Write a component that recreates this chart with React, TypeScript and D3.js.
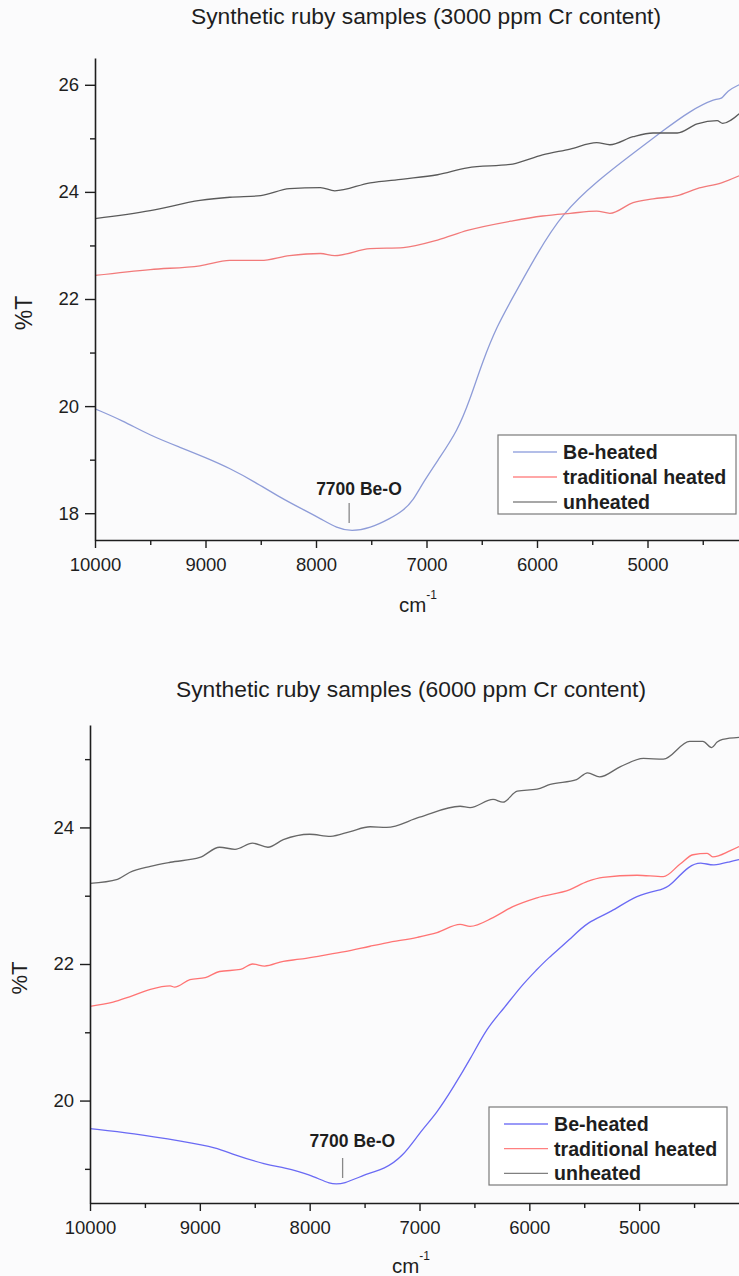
import React, { useRef, useEffect } from 'react';
import * as d3 from 'd3';

type Pt = [number, number]; // [wavenumber cm-1, %T]

const seriesNames = ['Be-heated', 'traditional heated', 'unheated'];

// 3000 ppm Cr
const topBeHeated: Pt[] = [
  [10000, 19.95], [9750, 19.73], [9500, 19.45], [9230, 19.23], [9000, 19.04], [8780, 18.84],
  [8550, 18.58], [8330, 18.3], [8100, 18.05], [7960, 17.9], [7810, 17.72], [7680, 17.66],
  [7510, 17.72], [7330, 17.9], [7210, 18.05], [7120, 18.24], [7030, 18.58], [6880, 19.04],
  [6720, 19.54], [6610, 20.1], [6490, 20.85], [6360, 21.5], [6240, 21.95], [6000, 22.85],
  [5770, 23.6], [5460, 24.2], [5100, 24.77], [4860, 25.14], [4620, 25.51], [4370, 25.76],
  [4330, 25.72], [4280, 25.89], [4170, 26.0],
];
const topTraditional: Pt[] = [
  [10000, 22.44], [9500, 22.55], [9050, 22.62], [8780, 22.72], [8500, 22.72], [8240, 22.81],
  [7960, 22.85], [7830, 22.81], [7510, 22.94], [7210, 22.96], [6900, 23.1], [6630, 23.28],
  [6220, 23.46], [5950, 23.55], [5700, 23.6], [5460, 23.64], [5340, 23.6], [5130, 23.8],
  [4950, 23.87], [4730, 23.93], [4550, 24.06], [4330, 24.17], [4170, 24.3],
];
const topUnheated: Pt[] = [
  [10000, 23.5], [9500, 23.65], [9050, 23.84], [8780, 23.9], [8500, 23.93], [8240, 24.06],
  [7960, 24.08], [7830, 24.02], [7510, 24.17], [7210, 24.24], [6900, 24.32], [6630, 24.45],
  [6220, 24.52], [5950, 24.69], [5700, 24.8], [5460, 24.92], [5340, 24.88], [5130, 25.03],
  [4950, 25.1], [4730, 25.1], [4550, 25.27], [4370, 25.33], [4320, 25.28], [4170, 25.46],
];

// 6000 ppm Cr
const bottomBeHeated: Pt[] = [
  [10000, 19.59], [9610, 19.52], [9150, 19.4], [8840, 19.31], [8700, 19.21], [8390, 19.06],
  [8240, 19.02], [8000, 18.92], [7810, 18.77], [7700, 18.77], [7450, 18.95], [7330, 18.99],
  [7150, 19.18], [7000, 19.53], [6840, 19.82], [6690, 20.2], [6540, 20.6], [6380, 21.08],
  [6240, 21.33], [6080, 21.67], [5930, 21.92], [5840, 22.07], [5630, 22.36], [5470, 22.62],
  [5260, 22.75], [5020, 23.02], [4780, 23.09], [4720, 23.14], [4540, 23.46], [4420, 23.49],
  [4330, 23.43], [4170, 23.5], [4090, 23.53],
];
const bottomTraditional: Pt[] = [
  [10000, 21.38], [9790, 21.44], [9640, 21.52], [9450, 21.63], [9270, 21.68], [9230, 21.66],
  [9090, 21.77], [8950, 21.8], [8820, 21.89], [8630, 21.92], [8520, 22.0], [8410, 21.97],
  [8240, 22.04], [8090, 22.07], [7900, 22.12], [7680, 22.18], [7450, 22.26], [7300, 22.31],
  [7020, 22.39], [6840, 22.46], [6630, 22.58], [6540, 22.55], [6330, 22.68], [6150, 22.84],
  [5930, 22.97], [5630, 23.09], [5470, 23.21], [5330, 23.27], [5020, 23.3], [4780, 23.28],
  [4630, 23.46], [4510, 23.6], [4380, 23.62], [4330, 23.57], [4170, 23.66], [4090, 23.72],
];
const bottomUnheated: Pt[] = [
  [10000, 23.18], [9750, 23.24], [9640, 23.34], [9450, 23.43], [9270, 23.49], [9000, 23.56],
  [8820, 23.71], [8680, 23.68], [8520, 23.77], [8380, 23.71], [8240, 23.82], [8000, 23.9],
  [7810, 23.87], [7630, 23.94], [7450, 24.01], [7300, 24.0], [7000, 24.15], [6630, 24.31],
  [6540, 24.29], [6330, 24.41], [6240, 24.37], [6110, 24.53], [5930, 24.56], [5810, 24.63],
  [5570, 24.7], [5470, 24.8], [5360, 24.74], [5170, 24.89], [4960, 25.01], [4780, 25.0],
  [4540, 25.26], [4420, 25.26], [4340, 25.17], [4290, 25.25], [4240, 25.29], [4090, 25.32],
];

const xMajor = [10000, 9000, 8000, 7000, 6000, 5000];
const xMinor = [9500, 8500, 7500, 6500, 5500, 4500];
const yMajorTop = [18, 20, 22, 24, 26];
const yMajorBottom = [20, 22, 24];
const yMinor = [19, 21, 23, 25];
const peakLabel = '7700 Be-O';
const peakAt = 7700;

const FONT = '"Liberation Sans", Arial, Helvetica, sans-serif';
const INK = '#1e1e1e';

const panels = [
  {
    title: 'Synthetic ruby samples (3000 ppm Cr content)',
    titleX: 426, titleY: 24,
    left: 95, right: 758, top: 58, bottom: 540,
    yDomain: [17.5, 26.5], yMajor: yMajorTop,
    series: [topBeHeated, topTraditional, topUnheated],
    colors: ['#8e9cd8', '#f27a7a', '#5a5a5a'],
    legendColors: ['#9aa8e0', '#ff8a8a', '#8a8a8a'],
    legend: { x: 498, y: 435, w: 238, h: 79 },
    yLabel: { x: 32, y: 313, size: 23 },
    xLabel: { x: 399, y: 612 },
    peak: { textY: 495, lineTop: 503, lineBottom: 523 },
  },
  {
    title: 'Synthetic ruby samples (6000 ppm Cr content)',
    titleX: 411, titleY: 697,
    left: 90, right: 749, top: 725, bottom: 1203,
    yDomain: [18.5, 25.5], yMajor: yMajorBottom,
    series: [bottomBeHeated, bottomTraditional, bottomUnheated],
    colors: ['#6a6af4', '#ff7474', '#676767'],
    legendColors: ['#7878f6', '#ff8080', '#808080'],
    legend: { x: 489, y: 1107, w: 238, h: 78 },
    yLabel: { x: 27, y: 978, size: 22 },
    xLabel: { x: 392, y: 1273 },
    peak: { textY: 1147, lineTop: 1158, lineBottom: 1178 },
  },
];

function drawPanel(svg, p) {
  const x = d3.scaleLinear().domain([10000, 4000]).range([p.left, p.right]);
  const y = d3.scaleLinear().domain(p.yDomain).range([p.bottom, p.top]);
  const g = svg.append('g');

  g.append('text')
    .attr('x', p.titleX)
    .attr('y', p.titleY)
    .attr('text-anchor', 'middle')
    .attr('font-size', 22.8)
    .attr('fill', INK)
    .text(p.title);

  // curves: the Be-heated trace is smooth, the others keep their wiggles
  const smooth = d3.line<Pt>().x((d) => x(d[0])).y((d) => y(d[1])).curve(d3.curveBasis);
  const wiggly = d3.line<Pt>().x((d) => x(d[0])).y((d) => y(d[1])).curve(d3.curveMonotoneX);
  p.series.forEach((s, i) => {
    g.append('path')
      .datum(s)
      .attr('d', i === 0 ? smooth : wiggly)
      .attr('fill', 'none')
      .attr('stroke', p.colors[i])
      .attr('stroke-width', 1.3);
  });

  // axes
  const styleAxis = (ax) => {
    ax.selectAll('path.domain').attr('stroke', INK).attr('stroke-width', 1.6);
    ax.selectAll('.tick line').attr('stroke', INK).attr('stroke-width', 1.4);
    ax.selectAll('.tick text')
      .attr('fill', INK)
      .attr('font-size', 18.5)
      .attr('font-family', FONT);
  };

  const yAx = g
    .append('g')
    .attr('transform', `translate(${p.left},0)`)
    .call(d3.axisLeft(y).tickValues(p.yMajor).tickSize(10).tickSizeOuter(0).tickPadding(6).tickFormat(d3.format('d')));
  styleAxis(yAx);
  const yMin = g
    .append('g')
    .attr('transform', `translate(${p.left},0)`)
    .call(d3.axisLeft(y).tickValues(yMinor).tickSize(5).tickFormat(() => ''));
  yMin.select('path.domain').remove();
  styleAxis(yMin);

  const xAx = g
    .append('g')
    .attr('transform', `translate(0,${p.bottom})`)
    .call(d3.axisBottom(x).tickValues(xMajor).tickSize(8).tickSizeOuter(0).tickPadding(10).tickFormat(d3.format('d')));
  styleAxis(xAx);
  const xMin = g
    .append('g')
    .attr('transform', `translate(0,${p.bottom})`)
    .call(d3.axisBottom(x).tickValues(xMinor).tickSize(5).tickFormat(() => ''));
  xMin.select('path.domain').remove();
  styleAxis(xMin);

  // axis titles
  g.append('text')
    .attr('transform', `translate(${p.yLabel.x},${p.yLabel.y}) rotate(-90)`)
    .attr('text-anchor', 'middle')
    .attr('font-size', p.yLabel.size)
    .attr('fill', INK)
    .text('%T');
  const xl = g
    .append('text')
    .attr('x', p.xLabel.x)
    .attr('y', p.xLabel.y)
    .attr('font-size', 20.5)
    .attr('fill', INK);
  xl.append('tspan').text('cm');
  xl.append('tspan').attr('font-size', 12).attr('dy', -13).text('-1');

  // peak annotation
  g.append('line')
    .attr('x1', x(peakAt))
    .attr('x2', x(peakAt))
    .attr('y1', p.peak.lineTop)
    .attr('y2', p.peak.lineBottom)
    .attr('stroke', '#888')
    .attr('stroke-width', 1.3);
  g.append('text')
    .attr('x', x(peakAt) - 33)
    .attr('y', p.peak.textY)
    .attr('font-size', 17.5)
    .attr('font-weight', 'bold')
    .attr('fill', INK)
    .text(peakLabel);

  // legend
  const L = p.legend;
  const lg = g.append('g');
  lg.append('rect')
    .attr('x', L.x)
    .attr('y', L.y)
    .attr('width', L.w)
    .attr('height', L.h)
    .attr('fill', '#ffffff')
    .attr('stroke', '#7a7a7a')
    .attr('stroke-width', 1.2);
  const rowH = (L.h - 4) / 3;
  seriesNames.forEach((name, i) => {
    const cy = L.y + 17 + i * rowH;
    lg.append('line')
      .attr('x1', L.x + 15)
      .attr('x2', L.x + 59)
      .attr('y1', cy)
      .attr('y2', cy)
      .attr('stroke', p.legendColors[i])
      .attr('stroke-width', 1.4);
    lg.append('text')
      .attr('x', L.x + 65)
      .attr('y', cy)
      .attr('dy', '0.35em')
      .attr('font-size', 19.6)
      .attr('font-weight', 'bold')
      .attr('fill', INK)
      .text(name);
  });
}

function RubySpectra({ width = 739, height = 1276 }) {
  const ref = useRef(null);

  useEffect(() => {
    const svg = d3.select(ref.current);
    svg.selectAll('*').remove();
    svg.append('rect').attr('width', width).attr('height', height).attr('fill', '#fbfbfc');
    panels.forEach((p) => drawPanel(svg, p));
  }, [width, height]);

  return (
    <svg
      ref={ref}
      width={width}
      height={height}
      style={{ display: 'block', fontFamily: FONT }}
    ></svg>
  );
}

export default function App() {
  return (
    <div style={{ position: 'absolute', left: 0, top: 0 }}>
      <RubySpectra />
    </div>
  );
}
